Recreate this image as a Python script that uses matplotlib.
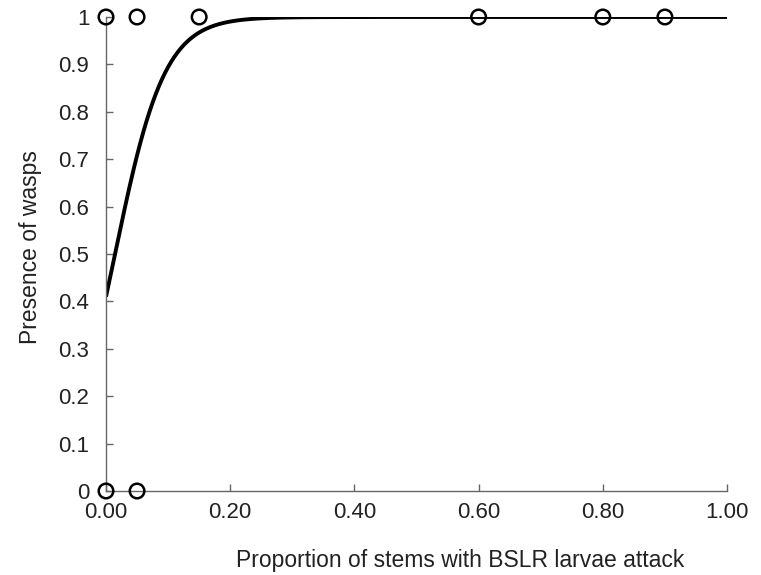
import numpy as np
import matplotlib
matplotlib.use("Agg")
import matplotlib.pyplot as plt

plt.rcParams['font.family'] = ['Liberation Sans', 'DejaVu Sans']

# Observed data (proportion attacked, presence of wasps)
obs_x = [0.00, 0.05, 0.15, 0.60, 0.80, 0.90, 0.00, 0.05]
obs_y = [1, 1, 1, 1, 1, 1, 0, 0]

# Fitted logistic regression parameters
fit_intercept = -0.364
fit_slope = 25.0

x_ticks = [0.0, 0.2, 0.4, 0.6, 0.8, 1.0]
x_ticklabels = ["0.00", "0.20", "0.40", "0.60", "0.80", "1.00"]
y_ticks = [0, 0.1, 0.2, 0.3, 0.4, 0.5, 0.6, 0.7, 0.8, 0.9, 1]
y_ticklabels = ["0", "0.1", "0.2", "0.3", "0.4", "0.5", "0.6", "0.7", "0.8", "0.9", "1"]

fig = plt.figure(figsize=(7.61, 5.75), dpi=100)
ax = fig.add_axes([106/761, 1-491/575, (727-106)/761, (491-17)/575])

xs = np.linspace(0, 1, 400)
ys = 1/(1+np.exp(-(fit_intercept + fit_slope*xs)))
ax.plot(xs, ys, color='black', lw=2.8, solid_capstyle='butt', zorder=2)
ax.scatter(obs_x, obs_y, s=110, facecolors='none', edgecolors='black', linewidths=1.8, zorder=3, clip_on=False)

ax.set_xlim(0, 1)
ax.set_ylim(0, 1)
ax.set_xticks(x_ticks)
ax.set_xticklabels(x_ticklabels)
ax.set_yticks(y_ticks)
ax.set_yticklabels(y_ticklabels)
for s in ['top', 'right']:
    ax.spines[s].set_visible(False)
for s in ['left', 'bottom']:
    ax.spines[s].set_color('#666666')
    ax.spines[s].set_linewidth(1.0)
ax.tick_params(direction='in', length=5, width=1, color='#666666', labelsize=16, labelcolor='#222222')
ax.tick_params(axis='y', pad=12)
ax.tick_params(axis='x', pad=8)
ax.set_xlabel("Proportion of stems with BSLR larvae attack", fontsize=16.5, color='#222222')
ax.xaxis.set_label_coords(0.570, -0.123)
ax.set_ylabel("Presence of wasps", fontsize=16.5, color='#222222')
ax.yaxis.set_label_coords(-0.103, 0.515)

fig.savefig("out.png", dpi=100)
